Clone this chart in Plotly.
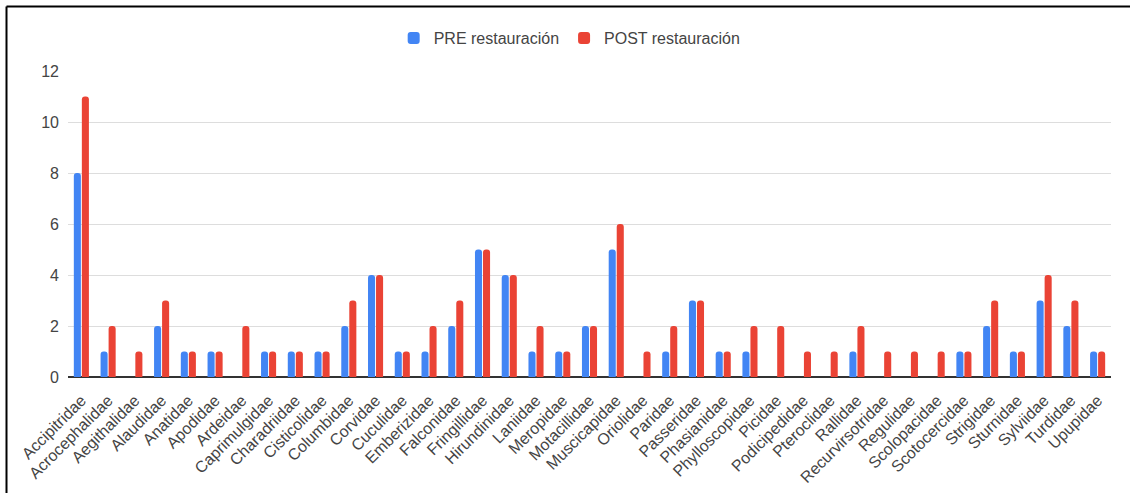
import plotly.graph_objects as go

families = ["Accipitridae", "Acrocephalidae", "Aegithalidae", "Alaudidae", "Anatidae",
            "Apodidae", "Ardeidae", "Caprimulgidae", "Charadriidae", "Cisticolidae",
            "Columbidae", "Corvidae", "Cuculidae", "Emberizidae", "Falconidae",
            "Fringillidae", "Hirundinidae", "Laniidae", "Meropidae", "Motacillidae",
            "Muscicapidae", "Oriolidae", "Paridae", "Passeridae", "Phasianidae",
            "Phylloscopidae", "Picidae", "Podicipedidae", "Pteroclidae", "Rallidae",
            "Recurvirsotridae", "Regulidae", "Scolopacidae", "Scotocercidae", "Strigidae",
            "Sturnidae", "Sylviidae", "Turdidae", "Upupidae"]

pre_values = [8, 1, 0, 2, 1, 1, 0, 1, 1, 1, 2, 4, 1, 1, 2, 5, 4, 1, 1, 2,
              5, 0, 1, 3, 1, 1, 0, 0, 0, 1, 0, 0, 0, 1, 2, 1, 3, 2, 1]
post_values = [11, 2, 1, 3, 1, 1, 2, 1, 1, 1, 3, 4, 1, 2, 3, 5, 4, 2, 1, 2,
               6, 1, 2, 3, 1, 2, 2, 1, 1, 2, 1, 1, 1, 1, 3, 1, 4, 3, 1]

y_ticks = [0, 2, 4, 6, 8, 10, 12]

fig = go.Figure()
fig.add_trace(go.Bar(x=families, y=pre_values, name="PRE restauración",
                     marker=dict(color="#4285F4", line=dict(width=0))))
fig.add_trace(go.Bar(x=families, y=post_values, name="POST restauración",
                     marker=dict(color="#EA4335", line=dict(width=0))))

L, R, T, B = 68, 19, 71, 116
W, H = 1130, 493
pw, ph = W - L - R, H - T - B

fig.update_layout(
    width=W, height=H,
    margin=dict(l=L, r=R, t=T, b=B, pad=0),
    paper_bgcolor="white", plot_bgcolor="white",
    font=dict(family="Liberation Sans, Arial, sans-serif", color="#444444", size=16),
    barmode="group", bargap=0.4, bargroupgap=0.12, barcornerradius=3,
    showlegend=True,
    legend=dict(orientation="h", x=0.481, xanchor="center",
                y=1 + (T - 38) / ph, yanchor="middle",
                font=dict(size=16, color="#444444"), itemwidth=30,
                traceorder="normal"),
    xaxis=dict(tickangle=-45, tickfont=dict(size=16, color="#444444"),
               showgrid=False, showline=False, ticks="", automargin=False,
               ticklabelstandoff=10),
    yaxis=dict(range=[0, 12], tickvals=y_ticks, showgrid=True, gridcolor="#DDDDDD",
               gridwidth=1, zeroline=True, zerolinecolor="#333333", zerolinewidth=1.5,
               tickfont=dict(size=16, color="#444444"), ticks="",
               ticklabelstandoff=8, automargin=False),
    shapes=[
        dict(type="line", xref="paper", yref="paper",
             x0=(6.5 - L) / pw, x1=(W - L + 5) / pw,
             y0=1 + (T - 6.5) / ph, y1=1 + (T - 6.5) / ph,
             line=dict(color="black", width=2)),
        dict(type="line", xref="paper", yref="paper",
             x0=(6.5 - L) / pw, x1=(6.5 - L) / pw,
             y0=1 + (T - 6.5) / ph, y1=-(B + 5) / ph,
             line=dict(color="black", width=2)),
    ],
)

fig.write_html("out.html")
